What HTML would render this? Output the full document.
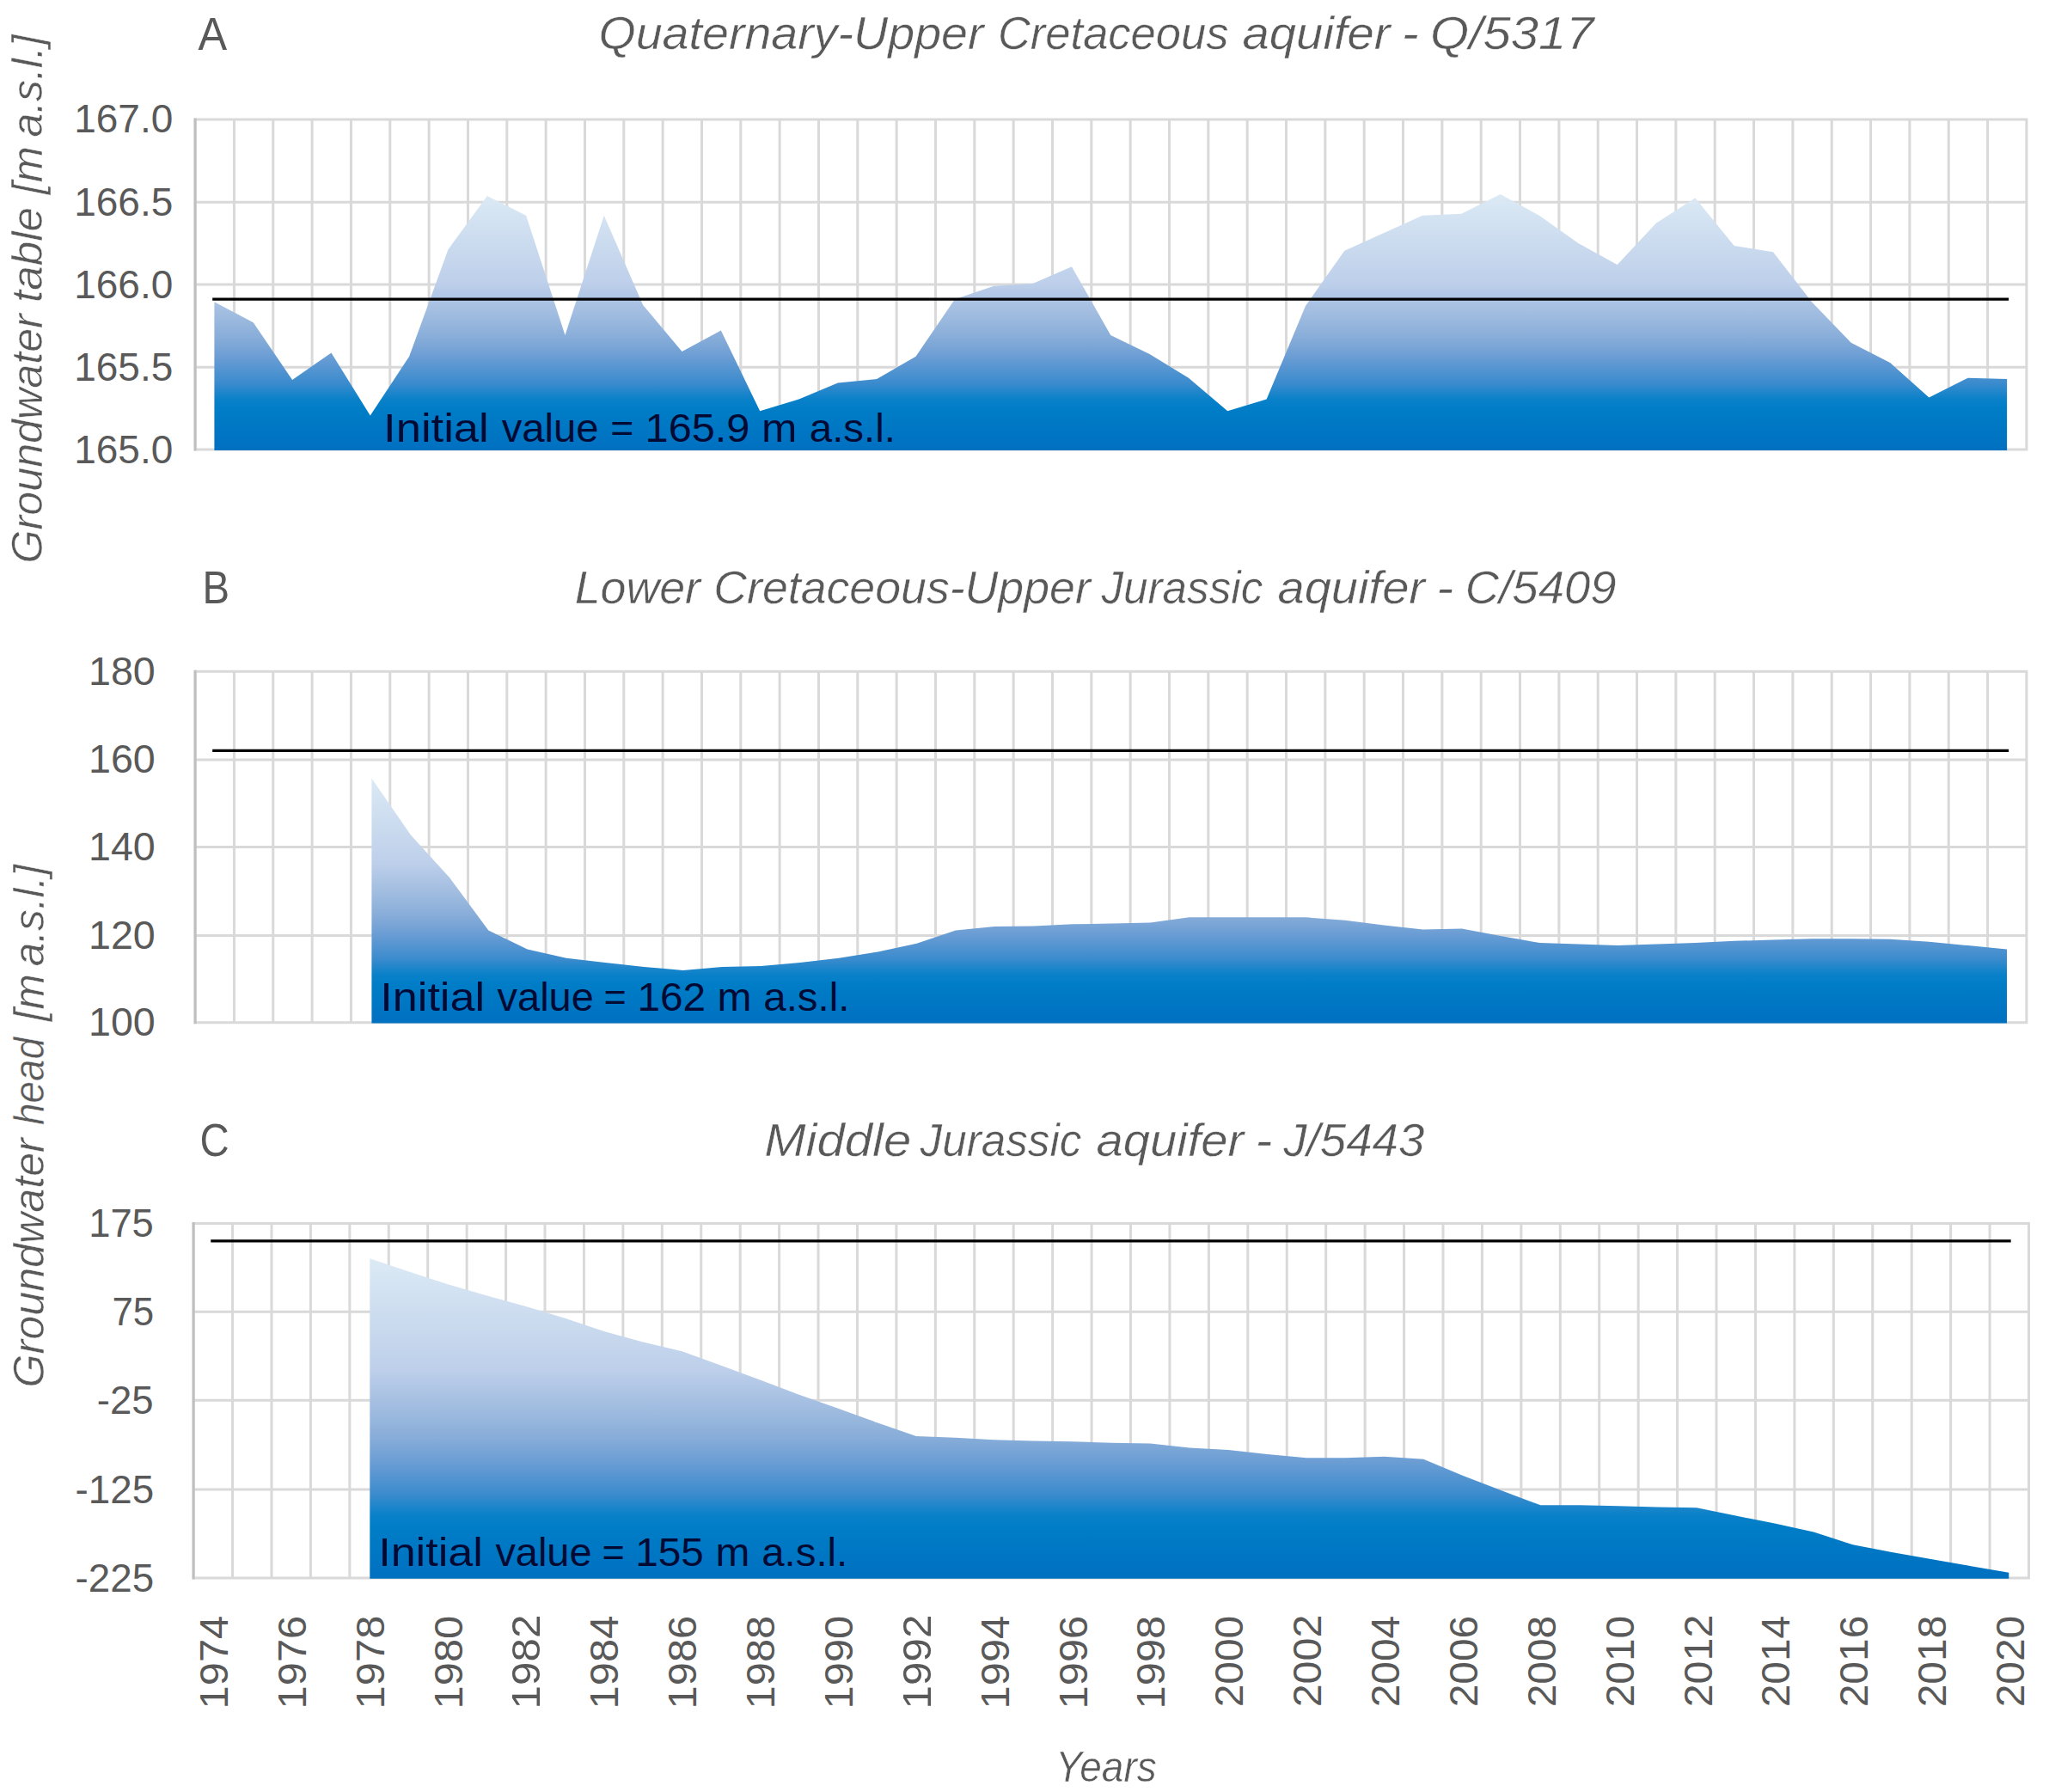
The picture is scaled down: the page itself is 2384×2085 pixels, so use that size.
<!DOCTYPE html>
<html lang="en"><head><meta charset="utf-8"><title>Groundwater level changes 1974-2020</title>
<style>html,body{margin:0;padding:0;background:#fff}svg{display:block}text{font-family:"Liberation Sans",sans-serif}</style>
</head><body>
<svg width="2384" height="2085" viewBox="0 0 2384 2085" role="img" aria-label="Groundwater level changes in three aquifers, 1974-2020">
<defs><linearGradient id="g" x1="0" y1="0" x2="0" y2="1">
<stop offset="0" stop-color="#dceaf5"/>
<stop offset="0.35" stop-color="#bdcfea"/>
<stop offset="0.5" stop-color="#98b7dd"/>
<stop offset="0.57" stop-color="#84abd8"/>
<stop offset="0.635" stop-color="#6b9dd4"/>
<stop offset="0.74" stop-color="#3a8bcd"/>
<stop offset="0.8" stop-color="#0a81c9"/>
<stop offset="0.84" stop-color="#007dc7"/>
<stop offset="1" stop-color="#0070c0"/>
</linearGradient></defs>
<rect width="2384" height="2085" fill="#fff"/>
<path d="M227.10 137.50V524.60M272.44 137.50V524.60M317.77 137.50V524.60M363.11 137.50V524.60M408.44 137.50V524.60M453.78 137.50V524.60M499.12 137.50V524.60M544.45 137.50V524.60M589.79 137.50V524.60M635.13 137.50V524.60M680.46 137.50V524.60M725.80 137.50V524.60M771.13 137.50V524.60M816.47 137.50V524.60M861.81 137.50V524.60M907.14 137.50V524.60M952.48 137.50V524.60M997.81 137.50V524.60M1043.15 137.50V524.60M1088.49 137.50V524.60M1133.82 137.50V524.60M1179.16 137.50V524.60M1224.50 137.50V524.60M1269.83 137.50V524.60M1315.17 137.50V524.60M1360.50 137.50V524.60M1405.84 137.50V524.60M1451.18 137.50V524.60M1496.51 137.50V524.60M1541.85 137.50V524.60M1587.19 137.50V524.60M1632.52 137.50V524.60M1677.86 137.50V524.60M1723.19 137.50V524.60M1768.53 137.50V524.60M1813.87 137.50V524.60M1859.20 137.50V524.60M1904.54 137.50V524.60M1949.87 137.50V524.60M1995.21 137.50V524.60M2040.55 137.50V524.60M2085.88 137.50V524.60M2131.22 137.50V524.60M2176.56 137.50V524.60M2221.89 137.50V524.60M2267.23 137.50V524.60M2312.56 137.50V524.60M2357.90 137.50V524.60M225.60 139.00H2359.40M225.60 235.30H2359.40M225.60 331.10H2359.40M225.60 427.20H2359.40M225.60 523.10H2359.40" stroke="#d9d9d9" stroke-width="3" fill="none"/>
<path d="M227.10 137.50V524.60" stroke="#bfbfbf" stroke-width="3" fill="none"/>
<path d="M249.40 523.90L249.40 351.20L294.74 375.30L340.08 442.00L385.42 410.40L430.77 483.60L476.11 414.80L521.45 290.30L566.79 228.00L612.13 250.80L657.47 389.90L702.81 250.80L748.15 355.00L793.50 409.00L838.84 384.60L884.18 478.30L929.52 464.60L974.86 445.50L1020.20 441.10L1065.54 414.80L1110.88 348.30L1156.23 332.80L1201.57 329.90L1246.91 310.20L1292.25 389.90L1337.59 411.90L1382.93 439.70L1428.27 478.30L1473.62 464.60L1518.96 356.00L1564.30 291.80L1609.64 271.30L1654.98 250.80L1700.32 248.80L1745.66 225.90L1791.00 250.80L1836.35 283.00L1881.69 307.90L1927.03 259.60L1972.37 230.30L2017.71 285.90L2063.05 293.30L2108.39 351.80L2153.73 398.70L2199.08 422.10L2244.42 462.50L2289.76 439.70L2335.10 441.10L2335.10 523.90Z" fill="url(#g)"/>
<path d="M247.17 348.20H2337.13" stroke="#000" stroke-width="3.2" fill="none"/>
<path d="M227.10 779.70V1191.20M272.44 779.70V1191.20M317.77 779.70V1191.20M363.11 779.70V1191.20M408.44 779.70V1191.20M453.78 779.70V1191.20M499.12 779.70V1191.20M544.45 779.70V1191.20M589.79 779.70V1191.20M635.13 779.70V1191.20M680.46 779.70V1191.20M725.80 779.70V1191.20M771.13 779.70V1191.20M816.47 779.70V1191.20M861.81 779.70V1191.20M907.14 779.70V1191.20M952.48 779.70V1191.20M997.81 779.70V1191.20M1043.15 779.70V1191.20M1088.49 779.70V1191.20M1133.82 779.70V1191.20M1179.16 779.70V1191.20M1224.50 779.70V1191.20M1269.83 779.70V1191.20M1315.17 779.70V1191.20M1360.50 779.70V1191.20M1405.84 779.70V1191.20M1451.18 779.70V1191.20M1496.51 779.70V1191.20M1541.85 779.70V1191.20M1587.19 779.70V1191.20M1632.52 779.70V1191.20M1677.86 779.70V1191.20M1723.19 779.70V1191.20M1768.53 779.70V1191.20M1813.87 779.70V1191.20M1859.20 779.70V1191.20M1904.54 779.70V1191.20M1949.87 779.70V1191.20M1995.21 779.70V1191.20M2040.55 779.70V1191.20M2085.88 779.70V1191.20M2131.22 779.70V1191.20M2176.56 779.70V1191.20M2221.89 779.70V1191.20M2267.23 779.70V1191.20M2312.56 779.70V1191.20M2357.90 779.70V1191.20M225.60 781.20H2359.40M225.60 884.00H2359.40M225.60 985.40H2359.40M225.60 1088.40H2359.40M225.60 1189.70H2359.40" stroke="#d9d9d9" stroke-width="3" fill="none"/>
<path d="M227.10 779.70V1191.20" stroke="#bfbfbf" stroke-width="3" fill="none"/>
<path d="M432.40 1190.50L432.40 905.40L477.70 971.30L523.00 1021.10L568.30 1082.60L613.60 1104.60L658.90 1114.80L704.20 1120.10L749.50 1125.00L794.80 1129.00L840.10 1125.00L885.40 1124.10L930.70 1120.00L976.00 1114.70L1021.30 1107.40L1066.60 1097.70L1111.90 1082.50L1157.20 1078.10L1202.50 1077.50L1247.80 1075.20L1293.10 1074.60L1338.40 1073.40L1383.70 1067.30L1429.00 1067.30L1474.30 1067.30L1519.60 1067.30L1564.90 1070.80L1610.20 1076.60L1655.50 1081.60L1700.80 1080.40L1746.10 1088.90L1791.40 1097.10L1836.70 1098.60L1882.00 1100.10L1927.30 1098.60L1972.60 1097.10L2017.90 1094.80L2063.20 1093.60L2108.50 1092.20L2153.80 1092.20L2199.10 1092.70L2244.40 1095.70L2289.70 1100.10L2335.00 1104.50L2335.00 1190.50Z" fill="url(#g)"/>
<path d="M247.17 873.30H2337.13" stroke="#000" stroke-width="3.2" fill="none"/>
<path d="M225.10 1421.90V1837.50M270.53 1421.90V1837.50M315.97 1421.90V1837.50M361.40 1421.90V1837.50M406.84 1421.90V1837.50M452.27 1421.90V1837.50M497.70 1421.90V1837.50M543.14 1421.90V1837.50M588.57 1421.90V1837.50M634.01 1421.90V1837.50M679.44 1421.90V1837.50M724.87 1421.90V1837.50M770.31 1421.90V1837.50M815.74 1421.90V1837.50M861.18 1421.90V1837.50M906.61 1421.90V1837.50M952.04 1421.90V1837.50M997.48 1421.90V1837.50M1042.91 1421.90V1837.50M1088.35 1421.90V1837.50M1133.78 1421.90V1837.50M1179.21 1421.90V1837.50M1224.65 1421.90V1837.50M1270.08 1421.90V1837.50M1315.52 1421.90V1837.50M1360.95 1421.90V1837.50M1406.39 1421.90V1837.50M1451.82 1421.90V1837.50M1497.25 1421.90V1837.50M1542.69 1421.90V1837.50M1588.12 1421.90V1837.50M1633.56 1421.90V1837.50M1678.99 1421.90V1837.50M1724.42 1421.90V1837.50M1769.86 1421.90V1837.50M1815.29 1421.90V1837.50M1860.73 1421.90V1837.50M1906.16 1421.90V1837.50M1951.59 1421.90V1837.50M1997.03 1421.90V1837.50M2042.46 1421.90V1837.50M2087.90 1421.90V1837.50M2133.33 1421.90V1837.50M2178.76 1421.90V1837.50M2224.20 1421.90V1837.50M2269.63 1421.90V1837.50M2315.07 1421.90V1837.50M2360.50 1421.90V1837.50M223.60 1423.40H2362.00M223.60 1526.20H2362.00M223.60 1629.30H2362.00M223.60 1733.00H2362.00M223.60 1836.00H2362.00" stroke="#d9d9d9" stroke-width="3" fill="none"/>
<path d="M225.10 1421.90V1837.50" stroke="#bfbfbf" stroke-width="3" fill="none"/>
<path d="M430.30 1836.80L430.30 1464.30L475.70 1479.60L521.11 1494.20L566.51 1507.40L611.92 1520.00L657.32 1533.70L702.73 1549.00L748.13 1561.40L793.54 1572.20L838.94 1588.80L884.35 1605.50L929.75 1622.70L975.16 1638.80L1020.56 1655.30L1065.97 1671.00L1111.37 1672.80L1156.78 1675.20L1202.18 1676.60L1247.59 1677.20L1292.99 1678.70L1338.40 1679.60L1383.80 1684.50L1429.20 1686.90L1474.61 1691.90L1520.01 1696.30L1565.42 1696.30L1610.82 1694.80L1656.23 1697.70L1701.63 1716.70L1747.04 1734.30L1792.44 1751.30L1837.85 1751.30L1883.25 1752.20L1928.66 1753.40L1974.06 1754.20L2019.47 1763.60L2064.87 1772.40L2110.28 1782.60L2155.68 1797.30L2201.09 1806.10L2246.49 1813.90L2291.90 1821.90L2337.30 1829.80L2337.30 1836.80Z" fill="url(#g)"/>
<path d="M245.22 1443.90H2339.68" stroke="#000" stroke-width="3.2" fill="none"/>
<g id="labels-A">
<text x="230.60" y="58.3" font-size="54" textLength="33.63" lengthAdjust="spacingAndGlyphs" fill="#595959">A</text>
<text x="696.45" y="57.2" font-size="53" font-style="italic" stroke="#fff" stroke-width="0.5" textLength="448.10" lengthAdjust="spacingAndGlyphs" fill="#595959">Quaternary-Upper</text>
<text x="1160.93" y="57.2" font-size="53" font-style="italic" stroke="#fff" stroke-width="0.5" textLength="268.60" lengthAdjust="spacingAndGlyphs" fill="#595959">Cretaceous</text>
<text x="1445.54" y="57.2" font-size="53" font-style="italic" stroke="#fff" stroke-width="0.5" textLength="172.00" lengthAdjust="spacingAndGlyphs" fill="#595959">aquifer</text>
<text x="1630.81" y="57.2" font-size="53" font-style="italic" stroke="#fff" stroke-width="0.5" textLength="19.97" lengthAdjust="spacingAndGlyphs" fill="#595959">-</text>
<text x="1664.11" y="57.2" font-size="53" font-style="italic" stroke="#fff" stroke-width="0.5" textLength="190.44" lengthAdjust="spacingAndGlyphs" fill="#595959">Q/5317</text>
<text x="49.2" y="655.51" font-size="50" font-style="italic" stroke="#fff" stroke-width="0.5" textLength="290.35" lengthAdjust="spacingAndGlyphs" transform="rotate(-90 49.2 655.51)" fill="#595959">Groundwater</text>
<text x="49.2" y="352.05" font-size="50" font-style="italic" stroke="#fff" stroke-width="0.5" textLength="111.15" lengthAdjust="spacingAndGlyphs" transform="rotate(-90 49.2 352.05)" fill="#595959">table</text>
<text x="49.2" y="226.29" font-size="50" font-style="italic" stroke="#fff" stroke-width="0.5" textLength="55.96" lengthAdjust="spacingAndGlyphs" transform="rotate(-90 49.2 226.29)" fill="#595959">[m</text>
<text x="49.2" y="159.60" font-size="50" font-style="italic" stroke="#fff" stroke-width="0.5" textLength="119.28" lengthAdjust="spacingAndGlyphs" transform="rotate(-90 49.2 159.60)" fill="#595959">a.s.l.]</text>
<text x="86.20" y="154.39999999999998" font-size="46" textLength="115.12" lengthAdjust="spacingAndGlyphs" fill="#595959">167.0</text>
<text x="86.20" y="250.7" font-size="46" textLength="115.12" lengthAdjust="spacingAndGlyphs" fill="#595959">166.5</text>
<text x="86.20" y="346.5" font-size="46" textLength="115.12" lengthAdjust="spacingAndGlyphs" fill="#595959">166.0</text>
<text x="86.20" y="442.59999999999997" font-size="46" textLength="115.12" lengthAdjust="spacingAndGlyphs" fill="#595959">165.5</text>
<text x="86.20" y="538.5000000000001" font-size="46" textLength="115.12" lengthAdjust="spacingAndGlyphs" fill="#595959">165.0</text>
<text x="446.13" y="513.5" font-size="47" textLength="122.52" lengthAdjust="spacingAndGlyphs" fill="#020a33">Initial</text>
<text x="583.70" y="513.5" font-size="47" textLength="112.87" lengthAdjust="spacingAndGlyphs" fill="#020a33">value</text>
<text x="710.33" y="513.5" font-size="47" textLength="27.10" lengthAdjust="spacingAndGlyphs" fill="#020a33">=</text>
<text x="750.56" y="513.5" font-size="47" textLength="121.86" lengthAdjust="spacingAndGlyphs" fill="#020a33">165.9</text>
<text x="886.14" y="513.5" font-size="47" textLength="41.29" lengthAdjust="spacingAndGlyphs" fill="#020a33">m</text>
<text x="941.78" y="513.5" font-size="47" textLength="100.12" lengthAdjust="spacingAndGlyphs" fill="#020a33">a.s.l.</text>
</g>
<g id="labels-B">
<text x="235.50" y="701.5" font-size="54" textLength="31.56" lengthAdjust="spacingAndGlyphs" fill="#595959">B</text>
<text x="668.67" y="701.5" font-size="53" font-style="italic" stroke="#fff" stroke-width="0.5" textLength="146.36" lengthAdjust="spacingAndGlyphs" fill="#595959">Lower</text>
<text x="830.26" y="701.5" font-size="53" font-style="italic" stroke="#fff" stroke-width="0.5" textLength="438.56" lengthAdjust="spacingAndGlyphs" fill="#595959">Cretaceous-Upper</text>
<text x="1281.50" y="701.5" font-size="53" font-style="italic" stroke="#fff" stroke-width="0.5" textLength="187.78" lengthAdjust="spacingAndGlyphs" fill="#595959">Jurassic</text>
<text x="1486.44" y="701.5" font-size="53" font-style="italic" stroke="#fff" stroke-width="0.5" textLength="171.61" lengthAdjust="spacingAndGlyphs" fill="#595959">aquifer</text>
<text x="1671.31" y="701.5" font-size="53" font-style="italic" stroke="#fff" stroke-width="0.5" textLength="19.97" lengthAdjust="spacingAndGlyphs" fill="#595959">-</text>
<text x="1704.81" y="701.5" font-size="53" font-style="italic" stroke="#fff" stroke-width="0.5" textLength="175.82" lengthAdjust="spacingAndGlyphs" fill="#595959">C/5409</text>
<text x="51.2" y="1614.51" font-size="50" font-style="italic" stroke="#fff" stroke-width="0.5" textLength="290.35" lengthAdjust="spacingAndGlyphs" transform="rotate(-90 51.2 1614.51)" fill="#595959">Groundwater</text>
<text x="51.2" y="1308.92" font-size="50" font-style="italic" stroke="#fff" stroke-width="0.5" textLength="101.90" lengthAdjust="spacingAndGlyphs" transform="rotate(-90 51.2 1308.92)" fill="#595959">head</text>
<text x="51.2" y="1188.31" font-size="50" font-style="italic" stroke="#fff" stroke-width="0.5" textLength="55.14" lengthAdjust="spacingAndGlyphs" transform="rotate(-90 51.2 1188.31)" fill="#595959">[m</text>
<text x="51.2" y="1124.19" font-size="50" font-style="italic" stroke="#fff" stroke-width="0.5" textLength="118.28" lengthAdjust="spacingAndGlyphs" transform="rotate(-90 51.2 1124.19)" fill="#595959">a.s.l.]</text>
<text x="102.94" y="796.6000000000001" font-size="46" textLength="77.83" lengthAdjust="spacingAndGlyphs" fill="#595959">180</text>
<text x="102.94" y="899.4000000000001" font-size="46" textLength="77.83" lengthAdjust="spacingAndGlyphs" fill="#595959">160</text>
<text x="102.94" y="1000.8000000000001" font-size="46" textLength="77.83" lengthAdjust="spacingAndGlyphs" fill="#595959">140</text>
<text x="102.94" y="1103.8000000000002" font-size="46" textLength="77.83" lengthAdjust="spacingAndGlyphs" fill="#595959">120</text>
<text x="102.94" y="1205.1000000000001" font-size="46" textLength="77.83" lengthAdjust="spacingAndGlyphs" fill="#595959">100</text>
<text x="442.37" y="1176.2" font-size="47" textLength="121.67" lengthAdjust="spacingAndGlyphs" fill="#020a33">Initial</text>
<text x="578.60" y="1176.2" font-size="47" textLength="112.16" lengthAdjust="spacingAndGlyphs" fill="#020a33">value</text>
<text x="702.59" y="1176.2" font-size="47" textLength="26.26" lengthAdjust="spacingAndGlyphs" fill="#020a33">=</text>
<text x="741.43" y="1176.2" font-size="47" textLength="79.73" lengthAdjust="spacingAndGlyphs" fill="#020a33">162</text>
<text x="834.64" y="1176.2" font-size="47" textLength="39.99" lengthAdjust="spacingAndGlyphs" fill="#020a33">m</text>
<text x="888.38" y="1176.2" font-size="47" textLength="100.01" lengthAdjust="spacingAndGlyphs" fill="#020a33">a.s.l.</text>
</g>
<g id="labels-C">
<text x="232.47" y="1344.7" font-size="54" textLength="34.15" lengthAdjust="spacingAndGlyphs" fill="#595959">C</text>
<text x="889.21" y="1344.5" font-size="53" font-style="italic" stroke="#fff" stroke-width="0.5" textLength="171.04" lengthAdjust="spacingAndGlyphs" fill="#595959">Middle</text>
<text x="1070.60" y="1344.5" font-size="53" font-style="italic" stroke="#fff" stroke-width="0.5" textLength="187.78" lengthAdjust="spacingAndGlyphs" fill="#595959">Jurassic</text>
<text x="1275.44" y="1344.5" font-size="53" font-style="italic" stroke="#fff" stroke-width="0.5" textLength="171.81" lengthAdjust="spacingAndGlyphs" fill="#595959">aquifer</text>
<text x="1460.63" y="1344.5" font-size="53" font-style="italic" stroke="#fff" stroke-width="0.5" textLength="19.83" lengthAdjust="spacingAndGlyphs" fill="#595959">-</text>
<text x="1493.30" y="1344.5" font-size="53" font-style="italic" stroke="#fff" stroke-width="0.5" textLength="164.04" lengthAdjust="spacingAndGlyphs" fill="#595959">J/5443</text>
<text x="103.16" y="1439.3000000000002" font-size="46" textLength="75.67" lengthAdjust="spacingAndGlyphs" fill="#595959">175</text>
<text x="130.39" y="1542.1000000000001" font-size="46" textLength="48.78" lengthAdjust="spacingAndGlyphs" fill="#595959">75</text>
<text x="112.72" y="1645.2" font-size="46" textLength="65.85" lengthAdjust="spacingAndGlyphs" fill="#595959">-25</text>
<text x="87.61" y="1748.9" font-size="46" textLength="91.55" lengthAdjust="spacingAndGlyphs" fill="#595959">-125</text>
<text x="87.61" y="1851.9" font-size="46" textLength="91.55" lengthAdjust="spacingAndGlyphs" fill="#595959">-225</text>
<text x="440.17" y="1822.1" font-size="47" textLength="121.67" lengthAdjust="spacingAndGlyphs" fill="#020a33">Initial</text>
<text x="576.40" y="1822.1" font-size="47" textLength="112.16" lengthAdjust="spacingAndGlyphs" fill="#020a33">value</text>
<text x="700.39" y="1822.1" font-size="47" textLength="26.26" lengthAdjust="spacingAndGlyphs" fill="#020a33">=</text>
<text x="739.23" y="1822.1" font-size="47" textLength="79.73" lengthAdjust="spacingAndGlyphs" fill="#020a33">155</text>
<text x="832.55" y="1822.1" font-size="47" textLength="39.87" lengthAdjust="spacingAndGlyphs" fill="#020a33">m</text>
<text x="886.28" y="1822.1" font-size="47" textLength="100.01" lengthAdjust="spacingAndGlyphs" fill="#020a33">a.s.l.</text>
</g>
<g id="x-axis">
<text x="265.02" y="1988.46" font-size="47" textLength="108.79" lengthAdjust="spacingAndGlyphs" transform="rotate(-90 265.02 1988.46)" fill="#595959">1974</text>
<text x="355.89" y="1988.46" font-size="47" textLength="108.79" lengthAdjust="spacingAndGlyphs" transform="rotate(-90 355.89 1988.46)" fill="#595959">1976</text>
<text x="446.75" y="1988.46" font-size="47" textLength="108.79" lengthAdjust="spacingAndGlyphs" transform="rotate(-90 446.75 1988.46)" fill="#595959">1978</text>
<text x="537.62" y="1988.46" font-size="47" textLength="108.79" lengthAdjust="spacingAndGlyphs" transform="rotate(-90 537.62 1988.46)" fill="#595959">1980</text>
<text x="628.49" y="1988.50" font-size="47" textLength="109.90" lengthAdjust="spacingAndGlyphs" transform="rotate(-90 628.49 1988.50)" fill="#595959">1982</text>
<text x="719.36" y="1988.46" font-size="47" textLength="108.79" lengthAdjust="spacingAndGlyphs" transform="rotate(-90 719.36 1988.46)" fill="#595959">1984</text>
<text x="810.23" y="1988.46" font-size="47" textLength="108.79" lengthAdjust="spacingAndGlyphs" transform="rotate(-90 810.23 1988.46)" fill="#595959">1986</text>
<text x="901.09" y="1988.46" font-size="47" textLength="108.79" lengthAdjust="spacingAndGlyphs" transform="rotate(-90 901.09 1988.46)" fill="#595959">1988</text>
<text x="991.96" y="1988.46" font-size="47" textLength="108.79" lengthAdjust="spacingAndGlyphs" transform="rotate(-90 991.96 1988.46)" fill="#595959">1990</text>
<text x="1082.83" y="1988.50" font-size="47" textLength="109.90" lengthAdjust="spacingAndGlyphs" transform="rotate(-90 1082.83 1988.50)" fill="#595959">1992</text>
<text x="1173.7" y="1988.46" font-size="47" textLength="108.79" lengthAdjust="spacingAndGlyphs" transform="rotate(-90 1173.7 1988.46)" fill="#595959">1994</text>
<text x="1264.57" y="1988.46" font-size="47" textLength="108.79" lengthAdjust="spacingAndGlyphs" transform="rotate(-90 1264.57 1988.46)" fill="#595959">1996</text>
<text x="1355.43" y="1988.46" font-size="47" textLength="108.79" lengthAdjust="spacingAndGlyphs" transform="rotate(-90 1355.43 1988.46)" fill="#595959">1998</text>
<text x="1446.3" y="1986.34" font-size="47" textLength="106.63" lengthAdjust="spacingAndGlyphs" transform="rotate(-90 1446.3 1986.34)" fill="#595959">2000</text>
<text x="1537.17" y="1986.36" font-size="47" textLength="107.70" lengthAdjust="spacingAndGlyphs" transform="rotate(-90 1537.17 1986.36)" fill="#595959">2002</text>
<text x="1628.04" y="1986.34" font-size="47" textLength="106.63" lengthAdjust="spacingAndGlyphs" transform="rotate(-90 1628.04 1986.34)" fill="#595959">2004</text>
<text x="1718.91" y="1986.34" font-size="47" textLength="106.63" lengthAdjust="spacingAndGlyphs" transform="rotate(-90 1718.91 1986.34)" fill="#595959">2006</text>
<text x="1809.77" y="1986.34" font-size="47" textLength="106.63" lengthAdjust="spacingAndGlyphs" transform="rotate(-90 1809.77 1986.34)" fill="#595959">2008</text>
<text x="1900.64" y="1986.34" font-size="47" textLength="106.63" lengthAdjust="spacingAndGlyphs" transform="rotate(-90 1900.64 1986.34)" fill="#595959">2010</text>
<text x="1991.51" y="1986.36" font-size="47" textLength="107.70" lengthAdjust="spacingAndGlyphs" transform="rotate(-90 1991.51 1986.36)" fill="#595959">2012</text>
<text x="2082.38" y="1986.34" font-size="47" textLength="106.63" lengthAdjust="spacingAndGlyphs" transform="rotate(-90 2082.38 1986.34)" fill="#595959">2014</text>
<text x="2173.25" y="1986.34" font-size="47" textLength="106.63" lengthAdjust="spacingAndGlyphs" transform="rotate(-90 2173.25 1986.34)" fill="#595959">2016</text>
<text x="2264.11" y="1986.34" font-size="47" textLength="106.63" lengthAdjust="spacingAndGlyphs" transform="rotate(-90 2264.11 1986.34)" fill="#595959">2018</text>
<text x="2354.98" y="1986.34" font-size="47" textLength="106.63" lengthAdjust="spacingAndGlyphs" transform="rotate(-90 2354.98 1986.34)" fill="#595959">2020</text>
<text x="1228.15" y="2072.8" font-size="50.5" font-style="italic" stroke="#fff" stroke-width="0.5" textLength="117.59" lengthAdjust="spacingAndGlyphs" fill="#595959">Years</text>
</g>
</svg></body></html>
